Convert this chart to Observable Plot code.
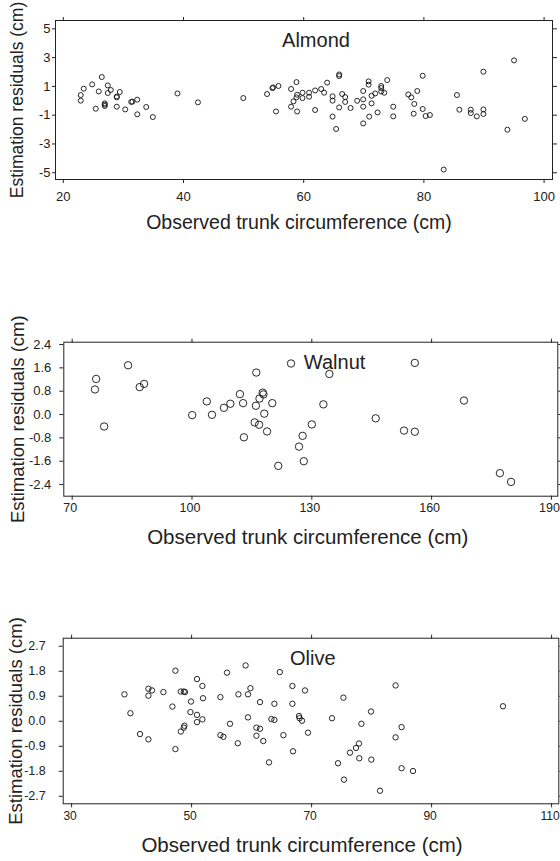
<!DOCTYPE html>
<html>
<head>
<meta charset="utf-8">
<script src="https://cdn.jsdelivr.net/npm/d3@7"></script>
<script src="https://cdn.jsdelivr.net/npm/@observablehq/plot@0.6"></script>
<style>
  html, body { margin: 0; padding: 0; background: #fff; }
  #chart { width: 560px; height: 861px; position: relative; overflow: hidden; }
  #chart svg { display: block; overflow: visible; }
</style>
</head>
<body>
<div id="chart"></div>
<script>
// ---------- Data ----------
const almondX = [22.9,22.9,23.4,24.8,25.4,25.9,26.4,26.9,26.9,26.9,27.4,27.4,27.9,28.9,28.9,28.9,29.4,30.3,31.3,31.5,32.3,32.3,33.8,34.9,39.0,42.4,49.95,53.9,54.9,54.8,55.4,55.8,
  57.9,57.9,58.3,58.8,58.9,58.9,58.8,59.8,59.8,60.9,60.9,61.9,61.9,62.9,63.4,63.9,64.8,64.8,64.8,65.4,65.9,65.9,65.9,66.4,66.9,66.9,67.8,68.9,69.9,69.9,69.9,69.9,
  70.8,70.8,70.9,71.3,71.3,71.9,72.3,72.9,72.9,72.9,73.4,73.9,74.9,74.9,77.4,77.9,78.3,78.4,78.9,79.8,79.8,80.3,81.0,83.3,85.5,85.9,87.8,87.8,88.8,89.9,89.9,89.9,93.9,95.0,96.8];
const almondY = [0.40,0.01,0.84,1.14,-0.55,0.65,1.65,-0.18,-0.36,-0.27,1.07,0.54,0.75,0.24,0.30,-0.41,0.61,-0.60,-0.08,-0.06,0.08,-0.94,-0.43,-1.13,0.51,-0.11,0.19,0.47,0.93,0.88,-0.74,1.03,
  0.82,-0.41,-0.04,1.30,0.42,-0.74,0.24,0.56,0.19,0.56,0.28,0.72,-0.64,0.82,0.56,1.26,0.31,0.01,-1.10,-1.96,1.83,1.72,-0.46,0.47,0.26,-0.08,-0.50,0.00,0.68,0.10,-0.41,-1.57,
  1.35,1.12,-1.10,0.35,-0.18,0.51,-0.81,1.03,0.89,0.65,0.56,1.44,-0.41,-1.08,0.44,0.24,-0.90,-0.22,0.68,1.74,-0.57,-1.06,-0.99,-4.78,0.40,-0.62,-0.62,-0.85,-1.08,2.02,-0.60,-0.92,-2.01,2.81,-1.26];

const walnutX = [75.7,76.0,78.0,84.0,86.9,88.0,100.05,103.7,105.0,108.0,109.6,112.0,112.8,113.0,116.1,116.0,115.7,116.8,116.9,117.7,117.9,118.1,118.8,120.1,121.6,
  124.8,126.8,127.7,128.0,130.0,132.9,134.4,146.0,153.1,155.8,155.8,168.1,177.1,179.9];
const walnutY = [0.86,1.22,-0.41,1.69,0.94,1.05,-0.02,0.45,-0.01,0.23,0.37,0.70,0.39,-0.78,1.44,0.30,-0.27,-0.35,0.55,0.75,0.69,0.03,-0.58,0.39,-1.76,
  1.75,-1.10,-0.73,-1.60,-0.34,0.35,1.39,-0.13,-0.55,1.77,-0.59,0.48,-2.01,-2.31];

const oliveX = [38.8,39.8,41.4,42.8,42.8,43.4,42.8,45.3,46.8,47.3,47.3,48.2,48.7,48.9,48.2,48.7,48.8,49.9,49.8,50.9,50.9,50.9,51.8,51.9,51.8,54.8,54.8,55.3,55.9,56.4,57.8,57.7,
  59.0,59.4,59.8,59.4,60.8,61.4,60.8,61.4,61.95,62.9,63.3,63.8,63.8,64.7,66.8,66.8,66.9,65.3,67.9,68.0,68.4,68.9,69.4,73.4,74.4,75.3,75.4,76.4,77.4,77.9,77.95,78.3,79.9,79.95,
  81.4,84.0,84.0,85.0,85.0,86.9,101.9];
const oliveY = [0.97,0.29,-0.46,1.17,0.92,1.11,-0.65,1.05,0.53,1.82,-1.00,1.07,1.07,1.05,-0.37,-0.23,-0.16,0.71,0.33,1.52,0.23,-0.03,1.27,0.83,0.07,0.87,-0.50,-0.56,1.75,-0.09,0.97,-0.79,
  2.01,0.97,1.19,0.14,-0.23,-0.27,-0.52,0.69,-0.71,-1.48,0.08,0.63,0.05,1.77,1.27,0.63,-1.08,-0.50,0.19,0.11,0.02,1.11,-0.41,0.11,-1.51,0.85,-2.10,-1.13,-0.96,-0.80,-1.33,-0.09,0.35,-1.38,
  -2.50,1.29,-0.58,-0.21,-1.69,-1.79,0.54];

// Tick values
const almondXTicks = [20, 40, 60, 80, 100];
const almondYTicks = [-5, -3, -1, 1, 3, 5];
const walnutXTicks = [70, 100, 130, 160, 190];
const walnutYTicks = [-2.4, -1.6, -0.8, 0, 0.8, 1.6, 2.4];
const oliveXTicks = [30, 50, 70, 90, 110];
const oliveYTicks = [-2.7, -1.8, -0.9, 0, 0.9, 1.8, 2.7];

// Panel labels and their anchor positions (data units)
const panelNames = ["Almond", "Walnut", "Olive"];
const panelLabelPos = [[56.4, 3.76], [128.0, 1.57], [66.4, 2.03]];

const xTitle = "Observed trunk circumference (cm)";
const yTitle = "Estimation residuals (cm)";

// ---------- Drawing ----------
const zip = (xs, ys) => xs.map((x, i) => ({x, y: ys[i]}));
const fmtInt = d => String(d);
const fmt1 = d => (Math.abs(d) < 1e-9 ? 0 : d).toFixed(1);

function panel(cfg) {
  return Plot.plot({
    width: 560,
    height: cfg.height,
    marginTop: cfg.mt,
    marginBottom: cfg.mb,
    marginLeft: cfg.ml,
    marginRight: cfg.mr,
    style: {fontFamily: "'Liberation Sans', Arial, sans-serif", fontSize: cfg.tickFont + "px", color: "#222", background: "#fff", overflow: "visible"},
    x: {domain: cfg.xDomain},
    y: {domain: cfg.yDomain},
    marks: [
      Plot.frame({stroke: "#222", strokeWidth: 1}),
      // bottom tick labels (no tick lines; shifted slightly as in the reference)
      Plot.axisX({anchor: "bottom", ticks: cfg.xTicks, tickFormat: fmtInt, tickSize: 0, tickPadding: 4 + cfg.xPad, label: null, fontSize: cfg.xTickFont, dx: cfg.xLabDx}),
      // tick lines on all four sides
      Plot.axisX({anchor: "bottom", ticks: cfg.xTicks, tickFormat: () => "", tickSize: 4, label: null}),
      Plot.axisX({anchor: "top", ticks: cfg.xTicks, tickFormat: () => "", tickSize: 4, label: null}),
      Plot.axisY({anchor: "left", ticks: cfg.yTicks, tickFormat: cfg.yFmt, tickSize: cfg.yTickSize, tickPadding: cfg.yPad, label: null, fontSize: cfg.tickFont}),
      Plot.axisY({anchor: "right", ticks: cfg.yTicks, tickFormat: () => "", tickSize: 4, label: null}),
      Plot.dot(cfg.data, {x: "x", y: "y", r: cfg.r, stroke: "#111", strokeWidth: 0.9, fill: "none"}),
      Plot.text([cfg.name], {x: () => cfg.labelPos[0], y: () => cfg.labelPos[1], text: d => d, textAnchor: "start", lineAnchor: "bottom", fontSize: 20, fill: "#222"}),
      Plot.text([xTitle], {frameAnchor: "bottom", text: d => d, textAnchor: "middle", dy: cfg.xtDy, dx: cfg.xtDx, lineAnchor: "middle", fontSize: cfg.xtFont, fill: "#222"}),
      Plot.text([yTitle], {frameAnchor: "left", text: d => d, textAnchor: "middle", rotate: -90, dx: cfg.ytDx, lineAnchor: "middle", fontSize: cfg.ytFont, fill: "#222"})
    ]
  });
}

const root = document.getElementById("chart");

root.appendChild(panel({
  height: 290, mt: 20, mb: 111, ml: 55, mr: 8,
  xDomain: [18.7, 101.4], yDomain: [-5.47, 5.58],
  xTicks: almondXTicks, yTicks: almondYTicks, yFmt: fmtInt,
  xPad: 8.5, xLabDx: 0, yPad: 2, yTickSize: 3, tickFont: 13, xTickFont: 13,
  data: zip(almondX, almondY), r: 2.5,
  name: panelNames[0], labelPos: panelLabelPos[0],
  xtDy: 43, xtDx: -5, xtFont: 19.5, ytDx: -38, ytFont: 17.5
}));

root.appendChild(panel({
  height: 300, mt: 51.7, mb: 94.3, ml: 63.3, mr: 2.7,
  xDomain: [67.9, 191.6], yDomain: [-2.8, 2.48],
  xTicks: walnutXTicks, yTicks: walnutYTicks, yFmt: fmt1,
  xPad: 3, xLabDx: -2, yPad: 8.5, yTickSize: 4, tickFont: 13, xTickFont: 12.5,
  data: zip(walnutX, walnutY), r: 3.7,
  name: panelNames[1], labelPos: panelLabelPos[1],
  xtDy: 41.3, xtDx: -3, xtFont: 20.5, ytDx: -46, ytFont: 18.5
}));

root.appendChild(panel({
  height: 271, mt: 47.7, mb: 57.7, ml: 62.7, mr: 1.7,
  xDomain: [28.6, 111.2], yDomain: [-2.97, 2.99],
  xTicks: oliveXTicks, yTicks: oliveYTicks, yFmt: fmt1,
  xPad: 4, xLabDx: -1.5, yPad: 13.5, yTickSize: 4, tickFont: 12.5, xTickFont: 12,
  data: zip(oliveX, oliveY), r: 2.7,
  name: panelNames[2], labelPos: panelLabelPos[2],
  xtDy: 42, xtDx: -9, xtFont: 20.5, ytDx: -47, ytFont: 18.5
}));
</script>
</body>
</html>
